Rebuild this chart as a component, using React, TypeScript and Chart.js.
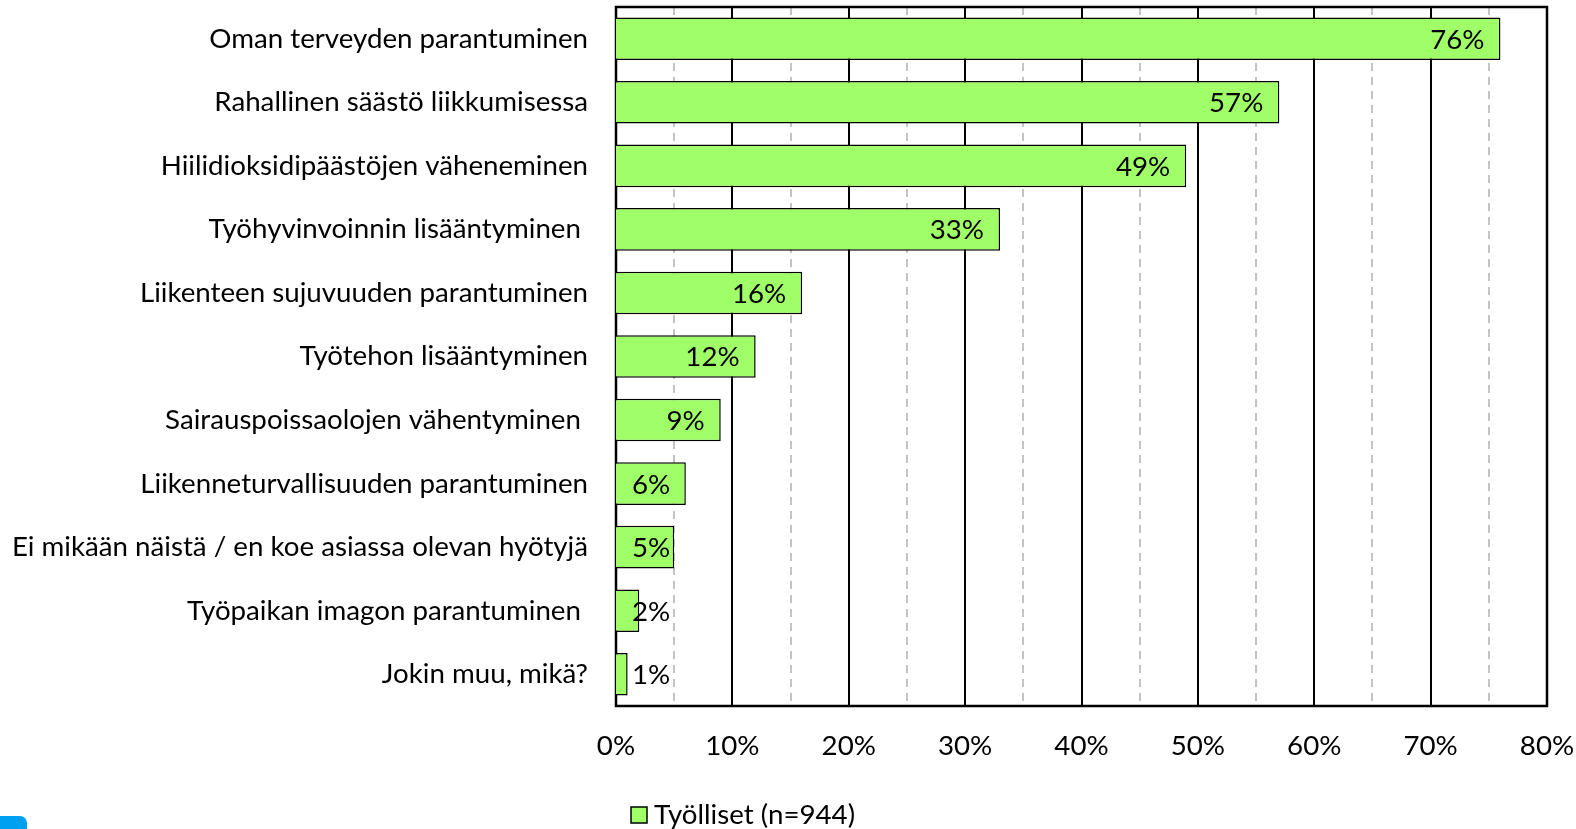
import React, { useEffect, useRef } from 'react';
import { Chart, registerables } from 'chart.js';
Chart.register(...registerables);

const categories = [
  'Oman terveyden parantuminen',
  'Rahallinen säästö liikkumisessa',
  'Hiilidioksidipäästöjen väheneminen',
  'Työhyvinvoinnin lisääntyminen ',
  'Liikenteen sujuvuuden parantuminen',
  'Työtehon lisääntyminen',
  'Sairauspoissaolojen vähentyminen ',
  'Liikenneturvallisuuden parantuminen',
  'Ei mikään näistä / en koe asiassa olevan hyötyjä',
  'Työpaikan imagon parantuminen ',
  'Jokin muu, mikä?',
];
const values = [76, 57, 49, 33, 16, 12, 9, 6, 5, 2, 1];
const seriesLabel = 'Työlliset (n=944)';
const axisMin = 0;
const axisMax = 80;
const majorStep = 10;
const minorLines = [5, 15, 25, 35, 45, 55, 65, 75];

const FONT_FAMILY = 'Lato, "Open Sans", sans-serif';
const FONT_SIZE = 27.7;
const BAR_COLOR = '#a0ff68';

const gridPlugin = {
  id: 'customGrid',
  beforeDatasetsDraw(chart: any) {
    const { ctx, chartArea } = chart;
    const xs = chart.scales.x;
    ctx.save();
    ctx.strokeStyle = '#c3c3c3';
    ctx.lineWidth = 2;
    ctx.setLineDash([8, 6]);
    minorLines.forEach((v) => {
      const x = Math.round(xs.getPixelForValue(v));
      ctx.beginPath();
      ctx.moveTo(x, chartArea.top);
      ctx.lineTo(x, chartArea.bottom);
      ctx.stroke();
    });
    ctx.setLineDash([]);
    ctx.strokeStyle = '#000';
    ctx.lineWidth = 2;
    for (let v = axisMin + majorStep; v < axisMax; v += majorStep) {
      const x = Math.round(xs.getPixelForValue(v));
      ctx.beginPath();
      ctx.moveTo(x, chartArea.top);
      ctx.lineTo(x, chartArea.bottom);
      ctx.stroke();
    }
    ctx.lineWidth = 2.5;
    ctx.strokeRect(chartArea.left, chartArea.top, chartArea.right - chartArea.left, chartArea.bottom - chartArea.top);
    ctx.restore();
  },
};

const labelPlugin = {
  id: 'valueLabels',
  afterDatasetsDraw(chart: any) {
    const { ctx } = chart;
    const meta = chart.getDatasetMeta(0);
    ctx.save();
    ctx.font = `${FONT_SIZE}px ${FONT_FAMILY}`;
    ctx.fillStyle = '#000';
    ctx.textBaseline = 'middle';
    ctx.textAlign = 'left';
    meta.data.forEach((bar: any, i: number) => {
      const text = values[i] + '%';
      const w = ctx.measureText(text).width;
      let x = bar.x - 16 - w;
      if (x < bar.base + 16) x = bar.base + 16;
      ctx.fillText(text, x, bar.y + 1);
    });
    ctx.restore();
  },
};

const legendPlugin = {
  id: 'customLegend',
  afterDraw(chart: any) {
    const { ctx } = chart;
    ctx.save();
    const bx = 631;
    const by = 807;
    const size = 16;
    ctx.fillStyle = BAR_COLOR;
    ctx.fillRect(bx, by, size, size);
    ctx.strokeStyle = '#000';
    ctx.lineWidth = 1.5;
    ctx.strokeRect(bx, by, size, size);
    ctx.font = `${FONT_SIZE}px ${FONT_FAMILY}`;
    ctx.fillStyle = '#000';
    ctx.textBaseline = 'middle';
    ctx.textAlign = 'left';
    ctx.fillText(seriesLabel, 654, 815);
    ctx.restore();
  },
};

export default function App() {
  const canvasRef = useRef<HTMLCanvasElement | null>(null);

  useEffect(() => {
    document.body.style.margin = '0';
    const canvas = canvasRef.current;
    if (!canvas) return;
    const chart = new Chart(canvas, {
      type: 'bar',
      data: {
        labels: categories,
        datasets: [
          {
            label: seriesLabel,
            data: values,
            backgroundColor: BAR_COLOR,
            borderColor: '#000',
            borderWidth: 1.5,
            borderSkipped: 'start',
            barPercentage: 0.67,
            categoryPercentage: 1,
          },
        ],
      },
      options: {
        indexAxis: 'y',
        animation: false,
        responsive: false,
        maintainAspectRatio: false,
        devicePixelRatio: 1,
        layout: { padding: { top: 7, right: 29, left: 0, bottom: 0 } },
        plugins: {
          legend: { display: false },
          tooltip: { enabled: false },
        },
        scales: {
          x: {
            type: 'linear',
            min: axisMin,
            max: axisMax,
            ticks: {
              stepSize: majorStep,
              callback: (v: any) => v + '%',
              color: '#000',
              font: { family: FONT_FAMILY, size: FONT_SIZE },
              padding: 23,
              maxRotation: 0,
            },
            grid: { display: false, drawTicks: false },
            border: { display: false },
            afterFit: (s: any) => {
              s.height = 123;
              s.paddingLeft = 0;
              s.paddingRight = 0;
            },
          },
          y: {
            type: 'category',
            ticks: {
              color: '#000',
              font: { family: FONT_FAMILY, size: FONT_SIZE },
              padding: 28,
              autoSkip: false,
            },
            grid: { display: false, drawTicks: false },
            border: { display: false },
            afterFit: (s: any) => {
              s.width = 616;
              s.paddingTop = 0;
              s.paddingBottom = 0;
            },
          },
        },
      },
      plugins: [gridPlugin, labelPlugin, legendPlugin],
    });
    return () => chart.destroy();
  }, []);

  return (
    <div style={{ position: 'fixed', left: 0, top: 0, width: 1576, height: 829, background: '#fff', overflow: 'hidden' }}>
      <canvas ref={canvasRef} width={1576} height={829} style={{ display: 'block', width: 1576, height: 829 }} />
      <div style={{ position: 'absolute', left: 0, top: 816, width: 27, height: 20, background: '#00a0f0', borderTopRightRadius: 7 }} />
    </div>
  );
}
